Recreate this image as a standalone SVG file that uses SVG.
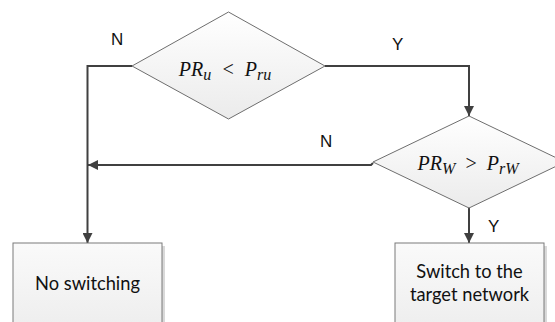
<svg xmlns="http://www.w3.org/2000/svg" width="555" height="322" viewBox="0 0 555 322">
<defs>
<linearGradient id="gd" x1="0" y1="0" x2="0" y2="1">
<stop offset="0" stop-color="#ffffff"/>
<stop offset="1" stop-color="#ebebeb"/>
</linearGradient>
<linearGradient id="gb" x1="0" y1="0" x2="0" y2="1">
<stop offset="0" stop-color="#fafafa"/>
<stop offset="1" stop-color="#ededed"/>
</linearGradient>
<marker id="ah" viewBox="0 0 10 10" refX="10" refY="5" markerWidth="10" markerHeight="10" markerUnits="userSpaceOnUse" orient="auto">
<path d="M0,0 L10,5 L0,10 Z" fill="#404040"/>
</marker>
</defs>
<style>
.dia{fill:url(#gd);stroke:#6e6e6e;stroke-width:1}
.box{fill:url(#gb);stroke:#7a7a7a;stroke-width:1}
.shadow{fill:#d9d9d9}
.conn{fill:none;stroke:#404040;stroke-width:2}
.lbl{font-family:"Liberation Sans",Arial,sans-serif;font-size:17px;fill:#111}
.btxt{font-family:Lato,"Open Sans",sans-serif;font-size:18.3px;fill:#111;text-anchor:middle}
.math{font-family:"Liberation Serif","Times New Roman",serif;font-style:italic;font-size:20px;fill:#111;text-anchor:middle}
.sub{font-size:16px}
</style>
<rect width="555" height="322" fill="#ffffff"/>
<g id="connectors">
<path class="conn" d="M132,66 H87.5 V243" marker-end="url(#ah)"/>
<path class="conn" d="M325,66 H469 V116" marker-end="url(#ah)"/>
<path class="conn" d="M373,163 L371,165 H88" marker-end="url(#ah)"/>
<path class="conn" d="M469,207 V243" marker-end="url(#ah)"/>
<text class="lbl" x="111" y="45">N</text>
<text class="lbl" x="392" y="50">Y</text>
<text class="lbl" x="320" y="147">N</text>
<text class="lbl" x="488" y="232">Y</text>
</g>
<g id="decision1">
<polygon class="dia" points="228.5,12 325,66 228.5,119 132,66"/>
<text class="math" x="225" y="76">PR<tspan class="sub" dy="4">u</tspan><tspan dx="10" dy="-4">&lt;</tspan><tspan dx="10">P</tspan><tspan class="sub" dy="4">ru</tspan></text>
</g>
<g id="decision2">
<polygon class="dia" points="469,116 565,162 469,208 373,162"/>
<text class="math" x="468" y="170">PR<tspan class="sub" dy="4">W</tspan><tspan dx="9" dy="-4">&gt;</tspan><tspan dx="9">P</tspan><tspan class="sub" dy="4">rW</tspan></text>
</g>
<g id="no-switching">
<rect class="shadow" x="16" y="246" width="149" height="90"/>
<rect class="box" x="13" y="243" width="149" height="90"/>
<text class="btxt" x="87.5" y="290">No switching</text>
</g>
<g id="switch-target">
<rect class="shadow" x="398" y="246" width="149" height="90"/>
<rect class="box" x="395" y="243" width="149" height="90"/>
<text class="btxt" x="469.5" y="278">Switch to the</text>
<text class="btxt" x="469.5" y="300.5">target network</text>
</g>
</svg>
